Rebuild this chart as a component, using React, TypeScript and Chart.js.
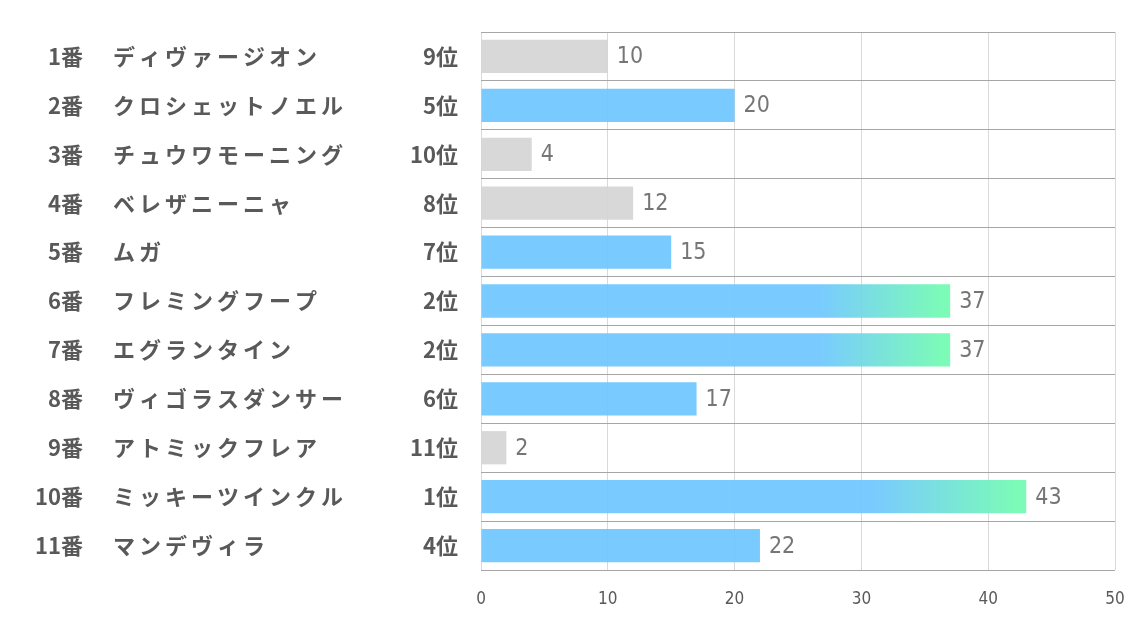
import React, { useEffect, useRef } from "react";
import { Chart, registerables } from "chart.js";

Chart.register(...registerables);

const horseNumbers = [1, 2, 3, 4, 5, 6, 7, 8, 9, 10, 11];
const horseNames = [
  "ディヴァージオン",
  "クロシェットノエル",
  "チュウワモーニング",
  "ベレザニーニャ",
  "ムガ",
  "フレミングフープ",
  "エグランタイン",
  "ヴィゴラスダンサー",
  "アトミックフレア",
  "ミッキーツインクル",
  "マンデヴィラ",
];
const ranks = [9, 5, 10, 8, 7, 2, 2, 6, 11, 1, 4];
const scores = [10, 20, 4, 12, 15, 37, 37, 17, 2, 43, 22];
const xTicks = [0, 10, 20, 30, 40, 50];

const BLUE = "rgba(110,198,255,0.92)";
const GREEN = "rgba(112,250,178,0.92)";
const GRAY = "rgba(213,213,213,0.92)";
const TEXT = "#595959";
const JP = "'Noto Sans CJK JP', 'Noto Sans', sans-serif";
const NUM = "'Liberation Sans Narrow', 'DejaVu Sans Condensed', 'Noto Sans', sans-serif";

const sideLabels = {
  id: "sideLabels",
  afterDraw(chart: any) {
    const { ctx, scales } = chart;
    const y = scales.y;
    ctx.save();
    ctx.fillStyle = TEXT;
    ctx.textBaseline = "middle";
    ctx.font = `bold 22px ${JP}`;
    horseNames.forEach((name, i) => {
      const py = y.getPixelForValue(i);
      (ctx as any).letterSpacing = "0px";
      ctx.textAlign = "right";
      ctx.fillText(`${horseNumbers[i]}番`, 83, py);
      ctx.fillText(`${ranks[i]}位`, 458, py);
      ctx.textAlign = "left";
      (ctx as any).letterSpacing = "4px";
      ctx.fillText(name, 113, py);
    });
    ctx.restore();
  },
};

const valueLabels = {
  id: "valueLabels",
  afterDatasetsDraw(chart: any) {
    const { ctx } = chart;
    const meta = chart.getDatasetMeta(0);
    ctx.save();
    ctx.fillStyle = "#767676";
    ctx.font = `23px ${NUM}`;
    ctx.textAlign = "left";
    ctx.textBaseline = "middle";
    meta.data.forEach((bar: any, i: number) => {
      ctx.fillText(String(scores[i]), bar.x + 9, bar.y + 1);
    });
    ctx.restore();
  },
};

export default function App() {
  const ref = useRef<HTMLCanvasElement>(null);
  useEffect(() => {
    if (!ref.current) return;
    const chart = new Chart(ref.current, {
      type: "bar",
      data: {
        labels: horseNames,
        datasets: [
          {
            data: scores,
            backgroundColor: (c: any) => {
              const i = c.dataIndex;
              const r = ranks[i];
              if (r >= 8) return GRAY;
              if (r > 3) return BLUE;
              const ch = c.chart;
              if (!ch.chartArea || !ch.scales.x) return BLUE;
              const x0 = ch.scales.x.getPixelForValue(0);
              const x1 = ch.scales.x.getPixelForValue(scores[i]);
              const g = ch.ctx.createLinearGradient(x0, 0, x1, 0);
              g.addColorStop(0, BLUE);
              g.addColorStop(0.72, BLUE);
              g.addColorStop(0.98, GREEN);
              g.addColorStop(1, GREEN);
              return g;
            },
            borderWidth: 0,
            categoryPercentage: 1,
            barPercentage: 0.68,
          },
        ],
      },
      options: {
        indexAxis: "y",
        animation: false,
        responsive: false,
        maintainAspectRatio: false,
        layout: { padding: { left: 481, top: 32, right: 19, bottom: 0 } },
        plugins: { legend: { display: false }, tooltip: { enabled: false } },
        scales: {
          x: {
            min: 0,
            max: 50,
            afterBuildTicks: (s: any) => {
              s.ticks = xTicks.map((v) => ({ value: v }));
            },
            afterFit: (s: any) => {
              s.height = 53;
              s.paddingLeft = 0;
              s.paddingRight = 0;
            },
            grid: { color: "#d9d9d9", drawTicks: false },
            border: { display: false },
            ticks: {
              color: TEXT,
              padding: 19,
              font: { family: NUM, size: 17 },
            },
          },
          y: {
            type: "category",
            afterFit: (s: any) => {
              s.width = 0;
              s.paddingTop = 0;
              s.paddingBottom = 0;
            },
            grid: { color: "#a6a6a6", offset: true, drawTicks: false },
            border: { display: false },
            ticks: { display: false },
          },
        },
      },
      plugins: [sideLabels, valueLabels],
    });
    return () => chart.destroy();
  }, []);
  return (
    <div style={{ position: "absolute", left: 0, top: 0, width: 1134, height: 623, background: "#fff" }}>
      <canvas ref={ref} width={1134} height={623} style={{ display: "block" }} />
    </div>
  );
}
